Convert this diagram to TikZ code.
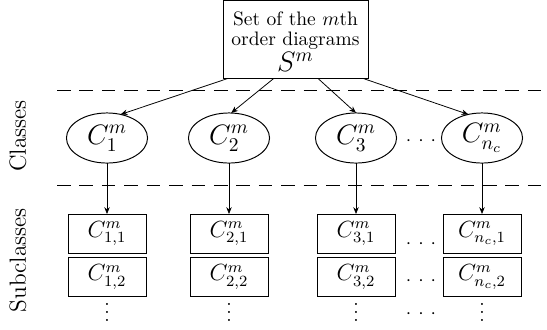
\documentclass[tikz,border=0pt]{standalone}
\usetikzlibrary{shapes.geometric,arrows.meta,calc}
\newcommand{\hdotsrow}{$\mathord{\cdot}\hspace{3.6pt}\mathord{\cdot}\hspace{3.6pt}\mathord{\cdot}$}
\begin{document}
\begin{tikzpicture}[x=0.513pt,y=-0.513pt,
  every node/.style={inner sep=0pt, outer sep=0pt},
  topbox/.style={draw, line width=0.5pt, minimum width=74.4pt, minimum height=39.5pt},
  cls/.style={draw, line width=0.5pt, ellipse, minimum width=41.6pt, minimum height=25.7pt, font=\Large},
  sub/.style={draw, line width=0.5pt, minimum width=40pt, minimum height=20pt, font=\large},
  sep/.style={line width=0.5pt, dash pattern=on 7pt off 4.5pt},
  arr/.style={line width=0.4pt, -{Stealth[length=3.5pt,width=2.8pt]}},
  hdots/.style={anchor=base},
  vdot/.style={anchor=base},
  side/.style={rotate=90, font=\large}]
\useasboundingbox (0,0) rectangle (547,329);

% top box
\node[topbox] (S) at (295.5,39.5) {\begin{tabular}{@{}c@{}}\rule{0pt}{12.6pt}Set of the $m$th\\[-1.7pt]order diagrams\\{\Large $S^m$}\end{tabular}};

% separators
\coordinate (a1) at (57,90);  \coordinate (a2) at (547,90);
\coordinate (b1) at (57,185); \coordinate (b2) at (547,185);
\draw[sep] (a1) -- (a2);
\draw[sep] (b1) -- (b2);

% side labels
\node[side] (cl) at (18,136) {Classes};
\node[side] (sc) at (18,260) {Subclasses};

% classes
\node[cls] (C1) at (107,138) {$C_1^m$};
\node[cls] (C2) at (229,138) {$C_2^m$};
\node[cls] (C3) at (356,138) {$C_3^m$};
\node[cls] (Cn) at (482,138) {$C_{n_c}^m$};
\node[hdots] (d0) at (421,145) {\hdotsrow};

% arrows from top box
\draw[arr] ($(S.south west)!0.034!(S.south east)$) -- (C1.60);
\draw[arr] ($(S.south west)!0.35!(S.south east)$) -- (C2.85);
\draw[arr] ($(S.south west)!0.655!(S.south east)$) -- (C3.90);
\draw[arr] ($(S.south west)!0.966!(S.south east)$) -- (Cn.120);

% subclasses
\node[sub] (s11) at (107,233.5) {$C_{1,1}^m$};
\node[sub] (s12) at (107,277)   {$C_{1,2}^m$};
\node[sub] (s21) at (229,233.5) {$C_{2,1}^m$};
\node[sub] (s22) at (229,277)   {$C_{2,2}^m$};
\node[sub] (s31) at (356,233.5) {$C_{3,1}^m$};
\node[sub] (s32) at (356,277)   {$C_{3,2}^m$};
\node[sub] (sn1) at (482,233.5) {$C_{n_c,1}^m$};
\node[sub] (sn2) at (482,277)   {$C_{n_c,2}^m$};

\node[hdots] (d1) at (421,248) {\hdotsrow};
\node[hdots] (d2) at (421,285) {\hdotsrow};
\node[hdots] (d3) at (421,318) {\hdotsrow};

\node[vdot] (v1) at (107,321) {$\vdots$};
\node[vdot] (v2) at (229,321) {$\vdots$};
\node[vdot] (v3) at (356,321) {$\vdots$};
\node[vdot] (v4) at (482,321) {$\vdots$};

% class to subclass arrows
\draw[arr] (C1) -- (s11);
\draw[arr] (C2) -- (s21);
\draw[arr] (C3) -- (s31);
\draw[arr] (Cn) -- (sn1);
\end{tikzpicture}
\end{document}
